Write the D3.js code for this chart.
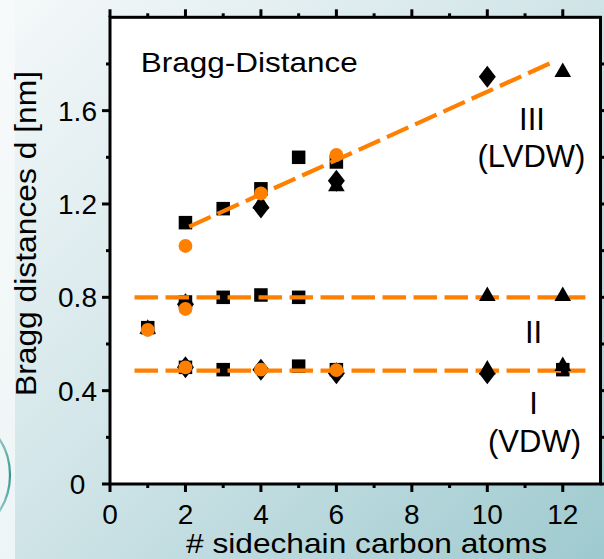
<!DOCTYPE html>
<html>
<head>
<meta charset="utf-8">
<script src="https://cdn.jsdelivr.net/npm/d3@7"></script>
<style>
  html, body { margin: 0; padding: 0; background: #ffffff; }
  svg { display: block; }
  text { font-family: "Liberation Sans", Arial, Helvetica, sans-serif; fill: #000; }
</style>
</head>
<body>
<svg id="chart" width="604" height="559"></svg>
<script>
// Bragg distances d [nm] versus number of sidechain carbon atoms
const squares = [
  [1, 0.67], [2, 1.12], [2, 0.78], [2, 0.50], [3, 1.18], [3, 0.80], [3, 0.49],
  [4, 1.265], [4, 0.81], [5, 1.40], [5, 0.80], [5, 0.505], [6, 1.38], [6, 0.49], [12, 0.49]
];
const triangles = [
  [1, 0.665], [4, 1.20], [6, 1.275], [10, 0.805], [12, 0.805], [10, 0.49], [12, 0.505], [12, 1.765]
];
const diamonds = [
  [2, 0.77], [2, 0.50], [4, 1.185], [4, 0.49], [6, 1.30], [6, 0.475], [10, 1.745], [10, 0.475]
];
const circles = [
  [1, 0.66], [2, 1.02], [2, 0.75], [2, 0.50], [4, 1.245], [4, 0.49], [6, 1.41], [6, 0.488]
];
// fitted guide lines: phase I (VDW), phase II, phase III (LVDW)
const lineI = [[0.65, 0.486], [12.6, 0.486]];
const lineII = [[0.65, 0.80], [12.6, 0.80]];
const lineIII = [[2.1, 1.103], [11.76, 1.81]];

const xTicks = [0, 2, 4, 6, 8, 10, 12];
const yTicks = [0, 0.4, 0.8, 1.2, 1.6];
const yTickLabels = ["0", "0.4", "0.8", "1.2", "1.6"];

const svg = d3.select("#chart");
const W = 604, H = 559;
const pL = 110, pR = 600.5, pT = 17.3, pB = 484;

const x = d3.scaleLinear().domain([0, 13]).range([pL, pR]);
const y = d3.scaleLinear().domain([0, 2]).range([pB, pT]);

// background
const defs = svg.append("defs");
const grad = defs.append("linearGradient").attr("id", "bg")
  .attr("x1", "0%").attr("y1", "0%").attr("x2", "100%").attr("y2", "100%");
grad.append("stop").attr("offset", "0%").attr("stop-color", "#f4f8f9");
grad.append("stop").attr("offset", "45%").attr("stop-color", "#d3e6e9");
grad.append("stop").attr("offset", "100%").attr("stop-color", "#9ecacf");
const gradL = defs.append("linearGradient").attr("id", "bgL")
  .attr("x1", "0%").attr("y1", "0%").attr("x2", "0%").attr("y2", "100%");
gradL.append("stop").attr("offset", "0%").attr("stop-color", "#f7fafa");
gradL.append("stop").attr("offset", "100%").attr("stop-color", "#eef5f6");
const arcGrad = defs.append("linearGradient").attr("id", "arcG")
  .attr("x1", "0").attr("y1", "0").attr("x2", "0").attr("y2", "1");
arcGrad.append("stop").attr("offset", "0%").attr("stop-color", "#2f9590").attr("stop-opacity", 0.1);
arcGrad.append("stop").attr("offset", "50%").attr("stop-color", "#2f9590").attr("stop-opacity", 1);
arcGrad.append("stop").attr("offset", "100%").attr("stop-color", "#2f9590").attr("stop-opacity", 0.1);

svg.append("rect").attr("x", 0).attr("y", 0).attr("width", W).attr("height", H).attr("fill", "url(#bgL)");
svg.append("rect").attr("x", 15).attr("y", 0).attr("width", W - 15).attr("height", H).attr("fill", "url(#bg)");
svg.append("circle").attr("cx", -56).attr("cy", 475).attr("r", 66)
  .attr("fill", "none").attr("stroke", "url(#arcG)").attr("stroke-width", 2.2);

// plot area
svg.append("rect").attr("x", pL).attr("y", pT).attr("width", pR - pL).attr("height", pB - pT)
  .attr("fill", "#ffffff");

const g = svg.append("g");

// ticks (outward on all four sides)
const majorX = d3.range(0, 13, 2), minorX = d3.range(1, 13, 2);
const majorY = [0, 0.4, 0.8, 1.2, 1.6], minorY = [0.2, 0.6, 1.0, 1.4, 1.8];
const tk = g.append("g").attr("stroke", "#000").attr("stroke-width", 3);
function xt(v, len) {
  tk.append("line").attr("x1", x(v)).attr("x2", x(v)).attr("y1", pB).attr("y2", pB + len);
  tk.append("line").attr("x1", x(v)).attr("x2", x(v)).attr("y1", pT).attr("y2", pT - len);
}
function yt(v, len) {
  tk.append("line").attr("y1", y(v)).attr("y2", y(v)).attr("x1", pL).attr("x2", pL - len);
  tk.append("line").attr("y1", y(v)).attr("y2", y(v)).attr("x1", pR).attr("x2", pR + len);
}
majorX.forEach(v => xt(v, 8)); minorX.forEach(v => xt(v, 4));
majorY.forEach(v => yt(v, 8)); minorY.forEach(v => yt(v, 4));

// frame
g.append("rect").attr("x", pL).attr("y", pT).attr("width", pR - pL).attr("height", pB - pT)
  .attr("fill", "none").attr("stroke", "#000").attr("stroke-width", 3);

// tick labels
g.selectAll(".xl").data(xTicks).join("text")
  .attr("x", d => x(d)).attr("y", 524).attr("text-anchor", "middle")
  .attr("font-size", 28).text(d => d);
g.selectAll(".yl").data(yTicks).join("text")
  .attr("x", 77.5).attr("y", d => y(d) + 10).attr("text-anchor", "middle")
  .attr("font-size", 28).text((d, i) => yTickLabels[i]);

// axis titles
g.append("text").attr("x", 366.5).attr("y", 553).attr("text-anchor", "middle")
  .attr("font-size", 28).attr("textLength", 361).attr("lengthAdjust", "spacingAndGlyphs")
  .text("# sidechain carbon atoms");
g.append("text").attr("transform", "translate(36,233.5) rotate(-90)").attr("text-anchor", "middle")
  .attr("font-size", 29).attr("textLength", 325).attr("lengthAdjust", "spacingAndGlyphs")
  .text("Bragg distances d [nm]");

// markers and guide lines
const orange = "#ff8000";
const sq = 13.5;
g.append("g").selectAll("rect").data(squares).join("rect")
  .attr("x", d => x(d[0]) - sq / 2).attr("y", d => y(d[1]) - sq / 2)
  .attr("width", sq).attr("height", sq).attr("fill", "#000");
const dw = 8.5, dh = 11;
const diaPath = `M0,${-dh}L${dw},0L0,${dh}L${-dw},0Z`;
g.append("g").selectAll("path").data(diamonds).join("path")
  .attr("transform", d => `translate(${x(d[0])},${y(d[1])})`)
  .attr("d", diaPath).attr("fill", "#000");

const line = d3.line().x(d => x(d[0])).y(d => y(d[1]));
[lineI, lineII, lineIII].forEach(L => {
  g.append("path").attr("d", line(L)).attr("fill", "none")
    .attr("stroke", orange).attr("stroke-width", 4.2).attr("stroke-dasharray", "23.5,7.5");
});

const triPath = d3.symbol().type(d3.symbolTriangle).size(120)();
g.append("g").selectAll("path").data(triangles).join("path")
  .attr("transform", d => `translate(${x(d[0])},${y(d[1])})`)
  .attr("d", triPath).attr("fill", "#000");

g.append("g").selectAll("circle").data(circles).join("circle")
  .attr("cx", d => x(d[0])).attr("cy", d => y(d[1])).attr("r", 6.9).attr("fill", orange);

// annotations
g.append("text").attr("x", 140.7).attr("y", 71.7).attr("font-size", 28)
  .attr("textLength", 217).attr("lengthAdjust", "spacingAndGlyphs").text("Bragg-Distance");
const ann = [["III", 532, 130], ["(LVDW)", 531.5, 166.7], ["II", 533.5, 342.7], ["I", 533.5, 414], ["(VDW)", 534.5, 451.7]];
g.selectAll(".ann").data(ann).join("text")
  .attr("x", d => d[1]).attr("y", d => d[2]).attr("text-anchor", "middle")
  .attr("font-size", 31).text(d => d[0]);
</script>
</body>
</html>
